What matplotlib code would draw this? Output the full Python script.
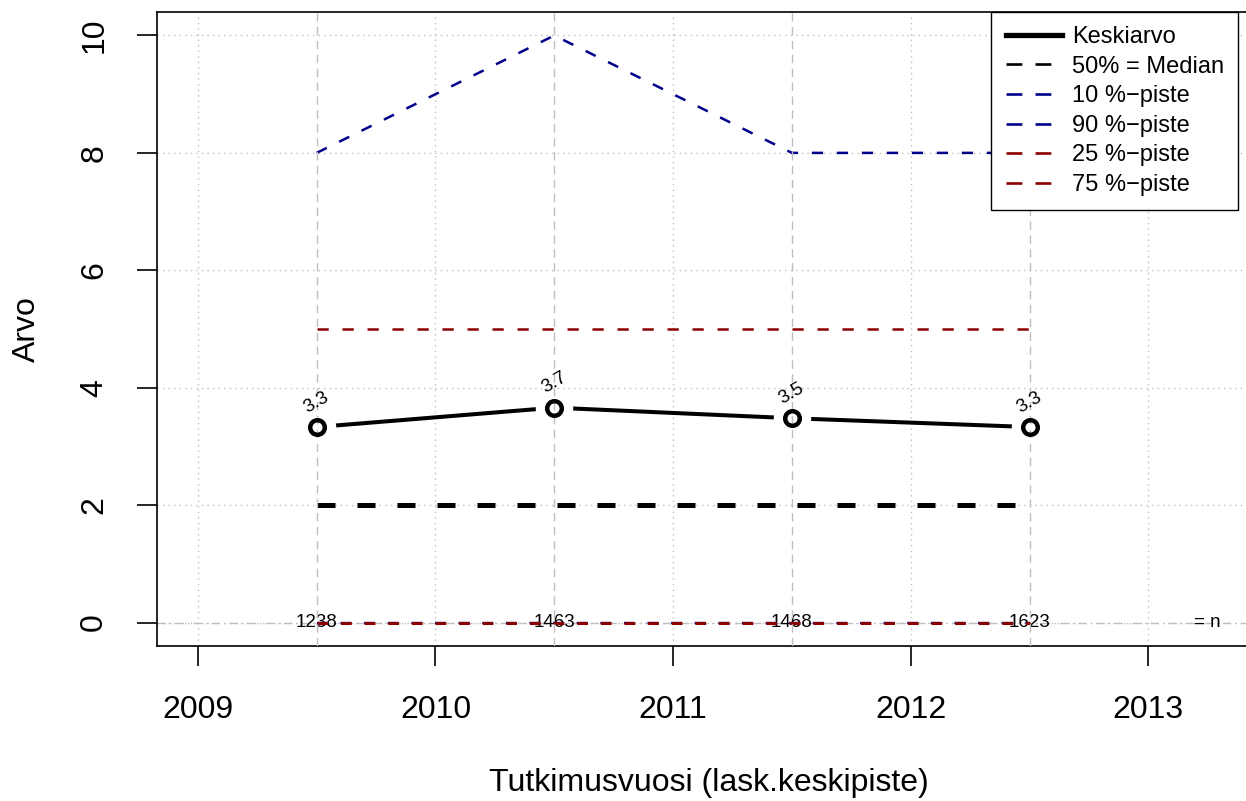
# keskiarvo ja persentiilit tutkimusvuosittain
import numpy as np
import matplotlib
matplotlib.use('Agg')
import matplotlib.pyplot as plt

plt.rcParams['font.family'] = ['Liberation Sans', 'DejaVu Sans']

vuosi = [2009.5, 2010.5, 2011.5, 2012.5]
keskiarvo = [3.33, 3.66, 3.48, 3.33]
mediaani = [2, 2, 2, 2]
p10 = [0, 0, 0, 0]
p90 = [8, 10, 8, 8]
p25 = [0, 0, 0, 0]
p75 = [5, 5, 5, 5]
n = [1238, 1463, 1468, 1623]
xticks = [2009, 2010, 2011, 2012, 2013]
yticks = [0, 2, 4, 6, 8, 10]

navy = '#00008B'
dred = '#8B0000'
grey = '#BEBEBE'
dash = (0, (4.5, 5.5))
legdash = (0, (6, 5))

fig = plt.figure(figsize=(12.46, 8.01), dpi=100)
W, H = 1246, 801
ax = fig.add_axes([157 / W, 1 - 646 / H, (1260 - 157) / W, (646 - 12) / H])
ax.set_xlim(2008.828, 2013.47)
ax.set_ylim(-0.4, 10.4)

# grid
for x in xticks:
    ax.axvline(x, color=grey, lw=1, ls=(0, (1, 3)), zorder=1)
for y in yticks:
    ax.axhline(y, color=grey, lw=1, ls=(0, (1, 3)), zorder=1)
ax.axhline(0, color=grey, lw=1, ls=(0, (6, 3, 1, 3)), zorder=1)

# n labels
for x, v in zip(vuosi, n):
    ax.text(x, 0, str(v), ha='center', va='center', fontsize=13.5, zorder=1.5)
ax.text(2013.25, 0, '= n', ha='center', va='center', fontsize=13.5, zorder=1.5)

# percentiles (10 % and 25 % both at zero, red drawn on top)
ax.plot(vuosi, p10, color=navy, lw=1.7, ls=(0, (4.5, 5.5)), zorder=2)
ax.plot(vuosi, p90, color=navy, lw=1.8, ls=dash, zorder=2)
ax.plot(vuosi, p25, color=dred, lw=2.2, ls=(0, (3.48, 4.25)), zorder=2.1)
ax.plot(vuosi, p75, color=dred, lw=1.8, ls=dash, zorder=2)
ax.plot(vuosi, mediaani, color='black', lw=3.6, ls=(0, (3.6, 4.4)), zorder=2)

# mean line with gaps at points
ax.plot(vuosi, keskiarvo, color='black', lw=2.9, zorder=2.5)
ax.plot(vuosi, keskiarvo, ls='none', marker='o', ms=27, mfc='white', mec='none', zorder=2.6)
for x in vuosi:
    ax.axvline(x, color=grey, lw=1, ls=(0, (6, 4)), zorder=2.7)
ax.plot(vuosi, keskiarvo, ls='none', marker='o', ms=10.5, mfc='none', mec='black', mew=3.2, zorder=3)
for x, v in zip(vuosi, keskiarvo):
    ax.text(x, v + 0.42, '%.1f' % v, ha='center', va='center', fontsize=13.5, rotation=30, zorder=3)

# legend
h1, = ax.plot([], [], color='black', lw=3.8)
h2, = ax.plot([], [], color='black', lw=1.9, ls=legdash)
h3, = ax.plot([], [], color=navy, lw=1.9, ls=legdash)
h4, = ax.plot([], [], color=navy, lw=1.9, ls=legdash)
h5, = ax.plot([], [], color=dred, lw=1.9, ls=legdash)
h6, = ax.plot([], [], color=dred, lw=1.9, ls=legdash)
leg = ax.legend([h1, h2, h3, h4, h5, h6],
                ['Keskiarvo', '50% = Median', '10 %\u2212piste', '90 %\u2212piste',
                 '25 %\u2212piste', '75 %\u2212piste'],
                loc='upper right', bbox_to_anchor=(1238 / W, 1 - 12 / H),
                bbox_transform=fig.transFigure, fontsize=17, frameon=True,
                fancybox=False, framealpha=1, edgecolor='black', borderpad=0.6,
                labelspacing=0.32, handlelength=2.4, handletextpad=0.4,
                borderaxespad=0)
leg.get_frame().set_linewidth(1)
leg.set_zorder(5)

# axes
ax.spines['right'].set_visible(False)
for s in ['left', 'top', 'bottom']:
    ax.spines[s].set_linewidth(1.2)
ax.set_xticks(xticks)
ax.set_yticks(yticks)
ax.tick_params(axis='x', labelsize=23, length=14.4, width=1.2, pad=21)
ax.tick_params(axis='y', labelsize=23, length=14.4, width=1.2, pad=20)
for lab in ax.get_yticklabels():
    lab.set_rotation(90)
    lab.set_va('center')
ax.set_xlabel('Tutkimusvuosi (lask.keskipiste)', fontsize=23, labelpad=31)
ax.set_ylabel('Arvo', fontsize=23, labelpad=27)

fig.savefig('out.png', dpi=100)
